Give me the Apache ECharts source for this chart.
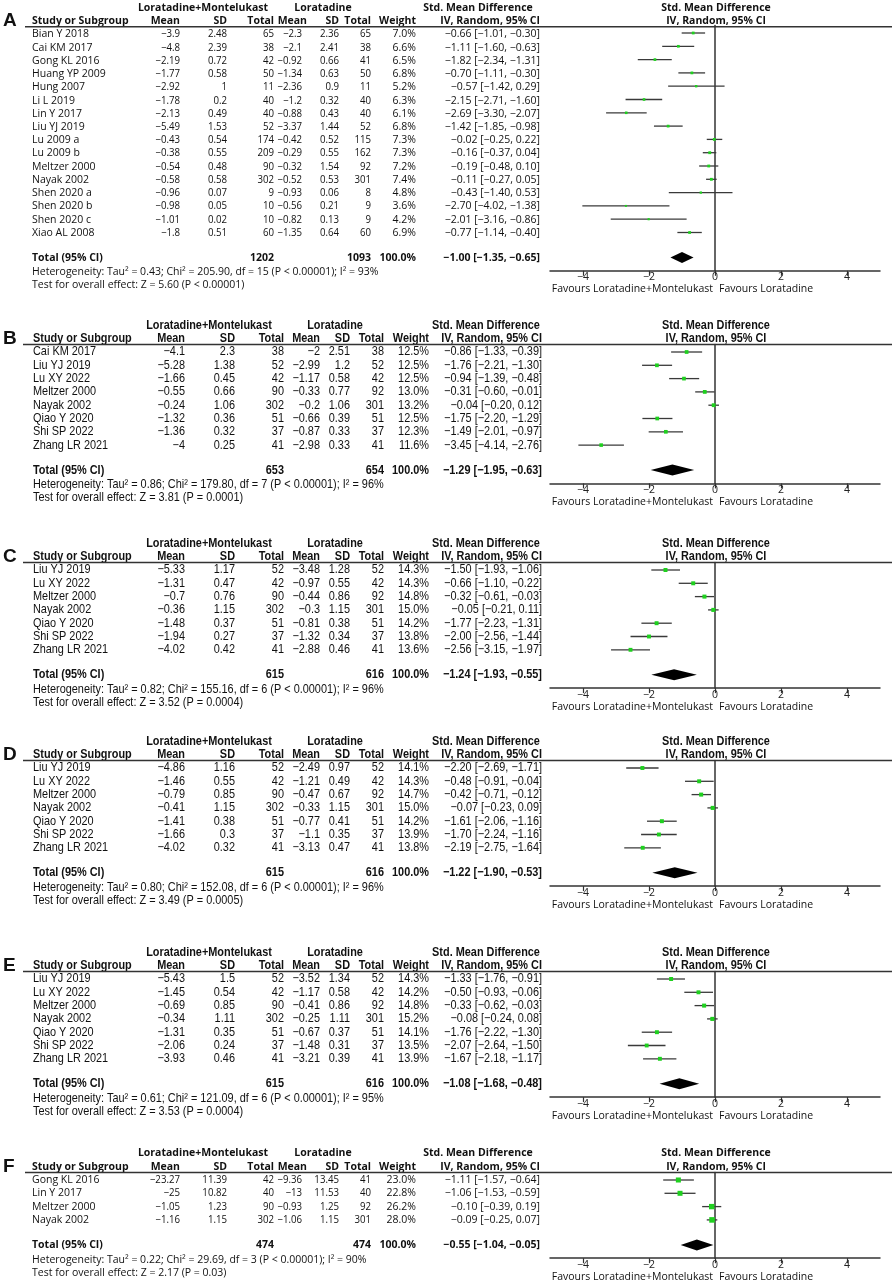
<!DOCTYPE html>
<html><head><meta charset="utf-8">
<script src="https://cdn.jsdelivr.net/npm/echarts@6/dist/echarts.min.js"></script>
<style>html,body{margin:0;padding:0;background:#fff}#c{width:892px;height:1285px}</style>
</head><body><div id="c"></div>
<script>
// ================= DATA =================
const TICKS = [-4, -2, 0, 2, 4];
const GROUP1 = 'Loratadine+Montelukast';
const GROUP2 = 'Loratadine';
const FAV_LEFT = 'Favours Loratadine+Montelukast';
const FAV_RIGHT = 'Favours Loratadine';

// Panel A
const A_study = ['Bian Y 2018','Cai KM 2017','Gong KL 2016','Huang YP 2009','Hung 2007','Li L 2019','Lin Y 2017','Liu YJ 2019','Lu 2009 a','Lu 2009 b','Meltzer 2000','Nayak 2002','Shen 2020 a','Shen 2020 b','Shen 2020 c','Xiao AL 2008'];
const A_mean1 = [-3.9,-4.8,-2.19,-1.77,-2.92,-1.78,-2.13,-5.49,-0.43,-0.38,-0.54,-0.58,-0.96,-0.98,-1.01,-1.8];
const A_sd1   = [2.48,2.39,0.72,0.58,1,0.2,0.49,1.53,0.54,0.55,0.48,0.58,0.07,0.05,0.02,0.51];
const A_n1    = [65,38,42,50,11,40,40,52,174,209,90,302,9,10,10,60];
const A_mean2 = [-2.3,-2.1,-0.92,-1.34,-2.36,-1.2,-0.88,-3.37,-0.42,-0.29,-0.32,-0.52,-0.93,-0.56,-0.82,-1.35];
const A_sd2   = [2.36,2.41,0.66,0.63,0.9,0.32,0.43,1.44,0.52,0.55,1.54,0.53,0.06,0.21,0.13,0.64];
const A_n2    = [65,38,41,50,11,40,40,52,115,162,92,301,8,9,9,60];
const A_weight= [7.0,6.6,6.5,6.8,5.2,6.3,6.1,6.8,7.3,7.3,7.2,7.4,4.8,3.6,4.2,6.9];
const A_smd   = [-0.66,-1.11,-1.82,-0.70,-0.57,-2.15,-2.69,-1.42,-0.02,-0.16,-0.19,-0.11,-0.43,-2.70,-2.01,-0.77];
const A_lo    = [-1.01,-1.60,-2.34,-1.11,-1.42,-2.71,-3.30,-1.85,-0.25,-0.37,-0.48,-0.27,-1.40,-4.02,-3.16,-1.14];
const A_hi    = [-0.30,-0.63,-1.31,-0.30,0.29,-1.60,-2.07,-0.98,0.22,0.04,0.10,0.05,0.53,-1.38,-0.86,-0.40];
const A_totN  = [1202, 1093];
const A_totCI = [-1.00, -1.35, -0.65];
const A_het   = 'Heterogeneity: Tau² = 0.43; Chi² = 205.90, df = 15 (P < 0.00001); I² = 93%';
const A_test  = 'Test for overall effect: Z = 5.60 (P < 0.00001)';

// Panel B
const B_study = ['Cai KM 2017','Liu YJ 2019','Lu XY 2022','Meltzer 2000','Nayak 2002','Qiao Y 2020','Shi SP 2022','Zhang LR 2021'];
const B_mean1 = [-4.1,-5.28,-1.66,-0.55,-0.24,-1.32,-1.36,-4];
const B_sd1   = [2.3,1.38,0.45,0.66,1.06,0.36,0.32,0.25];
const B_n1    = [38,52,42,90,302,51,37,41];
const B_mean2 = [-2,-2.99,-1.17,-0.33,-0.2,-0.66,-0.87,-2.98];
const B_sd2   = [2.51,1.2,0.58,0.77,1.06,0.39,0.33,0.33];
const B_n2    = [38,52,42,92,301,51,37,41];
const B_weight= [12.5,12.5,12.5,13.0,13.2,12.5,12.3,11.6];
const B_smd   = [-0.86,-1.76,-0.94,-0.31,-0.04,-1.75,-1.49,-3.45];
const B_lo    = [-1.33,-2.21,-1.39,-0.60,-0.20,-2.20,-2.01,-4.14];
const B_hi    = [-0.39,-1.30,-0.48,-0.01,0.12,-1.29,-0.97,-2.76];
const B_totN  = [653, 654];
const B_totCI = [-1.29, -1.95, -0.63];
const B_het   = 'Heterogeneity: Tau² = 0.86; Chi² = 179.80, df = 7 (P < 0.00001); I² = 96%';
const B_test  = 'Test for overall effect: Z = 3.81 (P = 0.0001)';

// Panel C
const C_study = ['Liu YJ 2019','Lu XY 2022','Meltzer 2000','Nayak 2002','Qiao Y 2020','Shi SP 2022','Zhang LR 2021'];
const C_mean1 = [-5.33,-1.31,-0.7,-0.36,-1.48,-1.94,-4.02];
const C_sd1   = [1.17,0.47,0.76,1.15,0.37,0.27,0.42];
const C_n1    = [52,42,90,302,51,37,41];
const C_mean2 = [-3.48,-0.97,-0.44,-0.3,-0.81,-1.32,-2.88];
const C_sd2   = [1.28,0.55,0.86,1.15,0.38,0.34,0.46];
const C_n2    = [52,42,92,301,51,37,41];
const C_weight= [14.3,14.3,14.8,15.0,14.2,13.8,13.6];
const C_smd   = [-1.50,-0.66,-0.32,-0.05,-1.77,-2.00,-2.56];
const C_lo    = [-1.93,-1.10,-0.61,-0.21,-2.23,-2.56,-3.15];
const C_hi    = [-1.06,-0.22,-0.03,0.11,-1.31,-1.44,-1.97];
const C_totN  = [615, 616];
const C_totCI = [-1.24, -1.93, -0.55];
const C_het   = 'Heterogeneity: Tau² = 0.82; Chi² = 155.16, df = 6 (P < 0.00001); I² = 96%';
const C_test  = 'Test for overall effect: Z = 3.52 (P = 0.0004)';

// Panel D
const D_study = ['Liu YJ 2019','Lu XY 2022','Meltzer 2000','Nayak 2002','Qiao Y 2020','Shi SP 2022','Zhang LR 2021'];
const D_mean1 = [-4.86,-1.46,-0.79,-0.41,-1.41,-1.66,-4.02];
const D_sd1   = [1.16,0.55,0.85,1.15,0.38,0.3,0.32];
const D_n1    = [52,42,90,302,51,37,41];
const D_mean2 = [-2.49,-1.21,-0.47,-0.33,-0.77,-1.1,-3.13];
const D_sd2   = [0.97,0.49,0.67,1.15,0.41,0.35,0.47];
const D_n2    = [52,42,92,301,51,37,41];
const D_weight= [14.1,14.3,14.7,15.0,14.2,13.9,13.8];
const D_smd   = [-2.20,-0.48,-0.42,-0.07,-1.61,-1.70,-2.19];
const D_lo    = [-2.69,-0.91,-0.71,-0.23,-2.06,-2.24,-2.75];
const D_hi    = [-1.71,-0.04,-0.12,0.09,-1.16,-1.16,-1.64];
const D_totN  = [615, 616];
const D_totCI = [-1.22, -1.90, -0.53];
const D_het   = 'Heterogeneity: Tau² = 0.80; Chi² = 152.08, df = 6 (P < 0.00001); I² = 96%';
const D_test  = 'Test for overall effect: Z = 3.49 (P = 0.0005)';

// Panel E
const E_study = ['Liu YJ 2019','Lu XY 2022','Meltzer 2000','Nayak 2002','Qiao Y 2020','Shi SP 2022','Zhang LR 2021'];
const E_mean1 = [-5.43,-1.45,-0.69,-0.34,-1.31,-2.06,-3.93];
const E_sd1   = [1.5,0.54,0.85,1.11,0.35,0.24,0.46];
const E_n1    = [52,42,90,302,51,37,41];
const E_mean2 = [-3.52,-1.17,-0.41,-0.25,-0.67,-1.48,-3.21];
const E_sd2   = [1.34,0.58,0.86,1.11,0.37,0.31,0.39];
const E_n2    = [52,42,92,301,51,37,41];
const E_weight= [14.3,14.2,14.8,15.2,14.1,13.5,13.9];
const E_smd   = [-1.33,-0.50,-0.33,-0.08,-1.76,-2.07,-1.67];
const E_lo    = [-1.76,-0.93,-0.62,-0.24,-2.22,-2.64,-2.18];
const E_hi    = [-0.91,-0.06,-0.03,0.08,-1.30,-1.50,-1.17];
const E_totN  = [615, 616];
const E_totCI = [-1.08, -1.68, -0.48];
const E_het   = 'Heterogeneity: Tau² = 0.61; Chi² = 121.09, df = 6 (P < 0.00001); I² = 95%';
const E_test  = 'Test for overall effect: Z = 3.53 (P = 0.0004)';

// Panel F
const F_study = ['Gong KL 2016','Lin Y 2017','Meltzer 2000','Nayak 2002'];
const F_mean1 = [-23.27,-25,-1.05,-1.16];
const F_sd1   = [11.39,10.82,1.23,1.15];
const F_n1    = [42,40,90,302];
const F_mean2 = [-9.36,-13,-0.93,-1.06];
const F_sd2   = [13.45,11.53,1.25,1.15];
const F_n2    = [41,40,92,301];
const F_weight= [23.0,22.8,26.2,28.0];
const F_smd   = [-1.11,-1.06,-0.10,-0.09];
const F_lo    = [-1.57,-1.53,-0.39,-0.25];
const F_hi    = [-0.64,-0.59,0.19,0.07];
const F_totN  = [474, 474];
const F_totCI = [-0.55, -1.04, -0.05];
const F_het   = 'Heterogeneity: Tau² = 0.22; Chi² = 29.69, df = 3 (P < 0.00001); I² = 90%';
const F_test  = 'Test for overall effect: Z = 2.17 (P = 0.03)';

// ================= LAYOUT / STYLE =================
const ROW_H = 13.3;
const RULE_ROW = -0.57;
const PLOT_L = 550, PLOT_W = 330, PLOT_C = 716;
// WIDE: panels A and F; NARROW: panels B-E (condensed look via horizontal scale)
const WIDE = {normal:'10.5px "Open Sans"', bold:'bold 10.5px "Open Sans"', family:'Open Sans', size:10.5, sx:1, numSx:0.92,
  cols:{study:32, m1:180, s1:227, n1:274, m2:302, m2h:307, s2:339, n2:371, w:416, ci:540, g1:203, g2:323, g3:478, rule0:25}};
const NARROW = {normal:'12.4px "Liberation Sans"', bold:'bold 12.4px "Liberation Sans"', family:'Liberation Sans', size:11, sx:0.88, numSx:0.88,
  cols:{study:33, m1:185, s1:235, n1:284, m2:320, m2h:320, s2:350, n2:384, w:429, ci:542, g1:209, g2:335, g3:486, rule0:23}};
const LETTER_FONT = 'bold 19px "Liberation Sans"';

const PANELS = [
  {L:'A', y0:33,  f:WIDE,   s:A_study,m1:A_mean1,s1:A_sd1,n1:A_n1,m2:A_mean2,s2:A_sd2,n2:A_n2,w:A_weight,e:A_smd,lo:A_lo,hi:A_hi,tn:A_totN,tc:A_totCI,het:A_het,test:A_test},
  {L:'B', y0:352, f:NARROW, s:B_study,m1:B_mean1,s1:B_sd1,n1:B_n1,m2:B_mean2,s2:B_sd2,n2:B_n2,w:B_weight,e:B_smd,lo:B_lo,hi:B_hi,tn:B_totN,tc:B_totCI,het:B_het,test:B_test},
  {L:'C', y0:570, f:NARROW, s:C_study,m1:C_mean1,s1:C_sd1,n1:C_n1,m2:C_mean2,s2:C_sd2,n2:C_n2,w:C_weight,e:C_smd,lo:C_lo,hi:C_hi,tn:C_totN,tc:C_totCI,het:C_het,test:C_test},
  {L:'D', y0:768, f:NARROW, s:D_study,m1:D_mean1,s1:D_sd1,n1:D_n1,m2:D_mean2,s2:D_sd2,n2:D_n2,w:D_weight,e:D_smd,lo:D_lo,hi:D_hi,tn:D_totN,tc:D_totCI,het:D_het,test:D_test},
  {L:'E', y0:979, f:NARROW, s:E_study,m1:E_mean1,s1:E_sd1,n1:E_n1,m2:E_mean2,s2:E_sd2,n2:E_n2,w:E_weight,e:E_smd,lo:E_lo,hi:E_hi,tn:E_totN,tc:E_totCI,het:E_het,test:E_test},
  {L:'F', y0:1180,f:WIDE,   s:F_study,m1:F_mean1,s1:F_sd1,n1:F_n1,m2:F_mean2,s2:F_sd2,n2:F_n2,w:F_weight,e:F_smd,lo:F_lo,hi:F_hi,tn:F_totN,tc:F_totCI,het:F_het,test:F_test}
];

const neg = s => String(s).replace(/-/g, '\u2212');
const num = v => neg(String(v));
const ci = (e, l, h) => neg(e.toFixed(2) + ' [' + l.toFixed(2) + ', ' + h.toFixed(2) + ']');

const option = {animation:false, backgroundColor:'#fff', grid:[], xAxis:[], yAxis:[], series:[]};

PANELS.forEach((P, pi) => {
  const n = P.s.length;
  const totRow = n + 0.88;
  const axisRow = totRow + 1.0;
  const yMin = -2.6, yMax = totRow + 2.7;
  const gT = 2 * pi, gP = 2 * pi + 1;
  const F = P.f, C = F.cols;

  // table grid (pixel-like x units, row y units)
  option.grid.push({left:0, width:892, top:P.y0 + yMin * ROW_H, height:(yMax - yMin) * ROW_H});
  option.xAxis.push({gridIndex:gT, type:'value', min:0, max:892, show:false});
  option.yAxis.push({gridIndex:gT, type:'value', min:yMin, max:yMax, inverse:true, show:false});

  // forest plot grid
  option.grid.push({left:PLOT_L, width:PLOT_W, top:P.y0 + RULE_ROW * ROW_H, height:(axisRow - RULE_ROW) * ROW_H});
  option.xAxis.push({gridIndex:gP, type:'value', min:-5, max:5, position:'bottom',
    axisLine:{onZero:false, lineStyle:{color:'#333', width:1.5}},
    axisTick:{show:true, customValues:TICKS, length:5, lineStyle:{color:'#333', width:1.2}},
    axisLabel:{customValues:TICKS, formatter:v => num(v), fontSize:10.5, fontFamily:'Open Sans', color:'#222', margin:1},
    splitLine:{show:false}});
  option.yAxis.push({gridIndex:gP, type:'value', min:RULE_ROW, max:axisRow, inverse:true,
    axisLine:{show:true, onZero:true, lineStyle:{color:'#333', width:1.5}},
    axisTick:{show:false}, axisLabel:{show:false}, splitLine:{show:false}});

  // text records
  const R = [];
  const T = (x, row, t, a, font, sx) => R.push({x, row, t, a, font, sx: sx == null ? F.sx : sx});
  T(3, -1, P.L, 'left', LETTER_FONT, 1);
  T(C.g1, -2, GROUP1, 'center', F.bold);
  T(C.g2, -2, GROUP2, 'center', F.bold);
  T(C.g3, -2, 'Std. Mean Difference', 'center', F.bold);
  T(PLOT_C, -2, 'Std. Mean Difference', 'center', F.bold);
  T(C.study, -1, 'Study or Subgroup', 'left', F.bold);
  T(C.m1, -1, 'Mean', 'right', F.bold);
  T(C.s1, -1, 'SD', 'right', F.bold);
  T(C.n1, -1, 'Total', 'right', F.bold);
  T(C.m2h, -1, 'Mean', 'right', F.bold);
  T(C.s2, -1, 'SD', 'right', F.bold);
  T(C.n2, -1, 'Total', 'right', F.bold);
  T(C.w, -1, 'Weight', 'right', F.bold);
  T(C.ci, -1, 'IV, Random, 95% CI', 'right', F.bold);
  T(PLOT_C, -1, 'IV, Random, 95% CI', 'center', F.bold);
  const ns = F.numSx;
  for (let i = 0; i < n; i++) {
    T(C.study, i, P.s[i], 'left', F.normal);
    T(C.m1, i, num(P.m1[i]), 'right', F.normal, ns);
    T(C.s1, i, num(P.s1[i]), 'right', F.normal, ns);
    T(C.n1, i, num(P.n1[i]), 'right', F.normal, ns);
    T(C.m2, i, num(P.m2[i]), 'right', F.normal, ns);
    T(C.s2, i, num(P.s2[i]), 'right', F.normal, ns);
    T(C.n2, i, num(P.n2[i]), 'right', F.normal, ns);
    T(C.w, i, P.w[i].toFixed(1) + '%', 'right', F.normal);
    T(C.ci, i, ci(P.e[i], P.lo[i], P.hi[i]), 'right', F.normal);
  }
  T(C.study, totRow, 'Total (95% CI)', 'left', F.bold);
  T(C.n1, totRow, String(P.tn[0]), 'right', F.bold);
  T(C.n2, totRow, String(P.tn[1]), 'right', F.bold);
  T(C.w, totRow, '100.0%', 'right', F.bold);
  T(C.ci, totRow, ci(P.tc[0], P.tc[1], P.tc[2]), 'right', F.bold);
  T(C.study, totRow + 1.1, P.het, 'left', F.normal);
  T(C.study, totRow + 2.1, P.test, 'left', F.normal);
  T(PLOT_C - 3, totRow + 2.4, FAV_LEFT, 'right', WIDE.normal, 1);
  T(PLOT_C + 3, totRow + 2.4, FAV_RIGHT, 'left', WIDE.normal, 1);

  option.series.push({
    type:'custom', xAxisIndex:gT, yAxisIndex:gT, silent:true, clip:false,
    encode:{x:0, y:1},
    data:R.map(r => [r.x, r.row]),
    renderItem:(params, api) => {
      const r = R[params.dataIndex];
      const p = api.coord([api.value(0), api.value(1)]);
      return {type:'text', x:p[0], y:p[1], scaleX:r.sx, style:{text:r.t, x:0, y:0, font:r.font, fill:'#111',
        textAlign:r.a, textVerticalAlign:'middle', align:r.a, verticalAlign:'middle'}};
    }
  });

  // header rule
  option.series.push({type:'line', xAxisIndex:gT, yAxisIndex:gT, silent:true, symbol:'none',
    data:[[C.rule0, RULE_ROW], [892, RULE_ROW]],
    lineStyle:{color:'#333', width:1.5}});

  // study CIs and boxes
  option.series.push({
    type:'custom', xAxisIndex:gP, yAxisIndex:gP, silent:true, clip:false,
    encode:{x:[0, 1, 2], y:3},
    data:P.s.map((_, i) => [P.lo[i], P.hi[i], P.e[i], i, P.w[i]]),
    renderItem:(params, api) => {
      const a = api.coord([api.value(0), api.value(3)]);
      const b = api.coord([api.value(1), api.value(3)]);
      const c = api.coord([api.value(2), api.value(3)]);
      const sz = 1.05 * Math.sqrt(api.value(4));
      return {type:'group', children:[
        {type:'line', shape:{x1:a[0], y1:a[1], x2:b[0], y2:b[1]}, style:{stroke:'#3a3a3a', lineWidth:1.3}},
        {type:'rect', shape:{x:c[0] - sz / 2, y:c[1] - sz / 2, width:sz, height:sz}, style:{fill:'#1fd01f'}}
      ]};
    }
  });

  // pooled diamond
  option.series.push({
    type:'custom', xAxisIndex:gP, yAxisIndex:gP, silent:true, clip:false,
    encode:{x:[0, 1, 2], y:3},
    data:[[P.tc[1], P.tc[2], P.tc[0], totRow]],
    renderItem:(params, api) => {
      const a = api.coord([api.value(0), api.value(3)]);
      const b = api.coord([api.value(1), api.value(3)]);
      const c = api.coord([api.value(2), api.value(3)]);
      const h = 5.5;
      return {type:'polygon', shape:{points:[[a[0], a[1]], [c[0], c[1] - h], [b[0], b[1]], [c[0], c[1] + h]]}, style:{fill:'#000'}};
    }
  });
});

const chart = echarts.init(document.getElementById('c'), null, {renderer:'canvas'});
chart.setOption(option);
</script>
</body></html>
